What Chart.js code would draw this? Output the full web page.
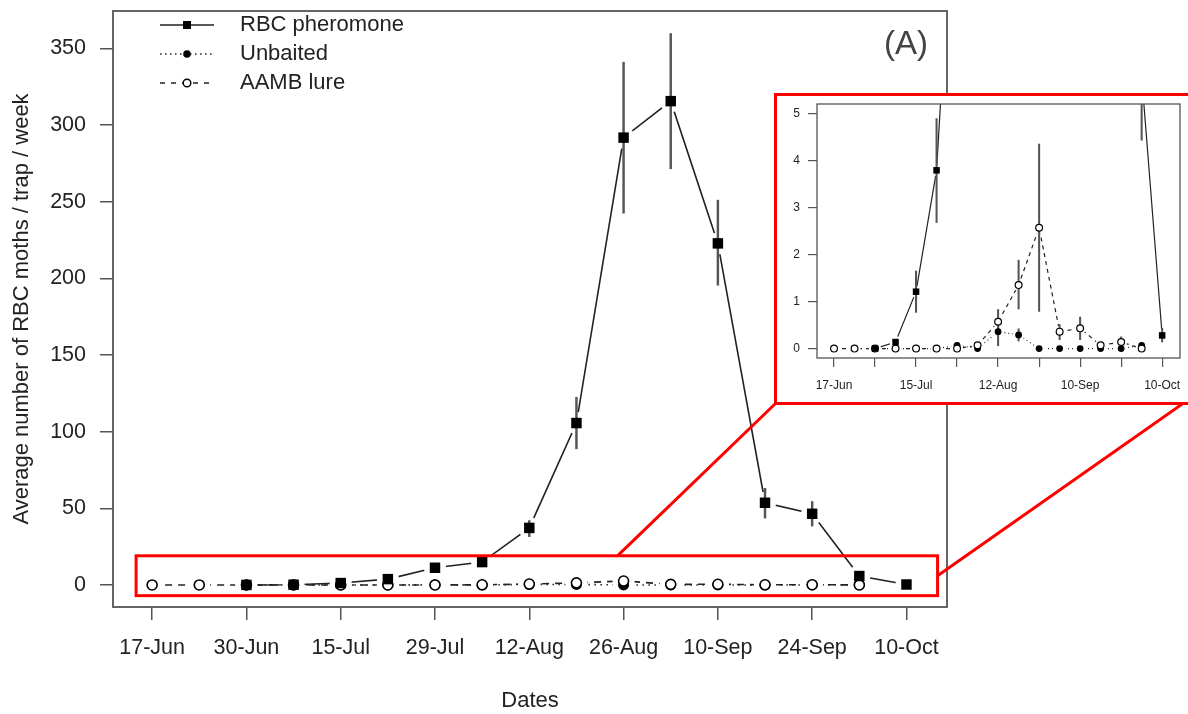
<!DOCTYPE html>
<html>
<head>
<meta charset="utf-8">
<title>RBC trap catches</title>
<script src="https://cdn.jsdelivr.net/npm/chart.js@4.4.1/dist/chart.umd.min.js"></script>
<style>
  html, body { margin: 0; padding: 0; background: #fff; }
  #wrap { position: relative; width: 1188px; height: 714px; overflow: hidden; }
  #mainChart { position: absolute; left: 0; top: 0; }
  #inset { position: absolute; left: 774px; top: 93px; width: 430px; height: 312px;
           border: 3px solid #ff0000; box-sizing: border-box; background: #fff; }
  #insetChart { position: absolute; left: 0; top: 0; }
</style>
</head>
<body>
<div id="wrap">
  <canvas id="mainChart" width="1188" height="714"></canvas>
  <div id="inset"><canvas id="insetChart" width="424" height="306"></canvas></div>
</div>
<script>
// weekly trap checks, index 0 = 17-Jun ... 16 = 10-Oct
const xTickWeeks = [0, 2, 4, 6, 8, 10, 12, 14, 16];
const xTickLabels = ['17-Jun', '30-Jun', '15-Jul', '29-Jul', '12-Aug', '26-Aug', '10-Sep', '24-Sep', '10-Oct'];
const insetTickLabels = ['17-Jun', '', '15-Jul', '', '12-Aug', '', '10-Sep', '', '10-Oct'];
const yTicksMain = [0, 50, 100, 150, 200, 250, 300, 350];
const yTicksInset = [0, 1, 2, 3, 4, 5];

// RBC pheromone (mean and error range)
const rbcMean = [null, null, 0, 0.14, 1.21, 3.79, 11.2, 14.9, 37.2, 105.6, 291.8, 315.6, 222.8, 53.6, 46.4, 5.8, 0.28];
const rbcLow  = [null, null, null, null, 0.77, 2.68, 8.6, 12.0, 31.5, 88.8, 242.5, 271.5, 195.5, 43.6, 38.4, 4.43, 0.14];
const rbcHigh = [null, null, null, null, 1.65, 4.89, 13.8, 17.8, 42.0, 122.4, 341.0, 359.7, 251.0, 63.0, 54.4, 7.17, 0.43];

// Unbaited traps
const unbMean = [null, null, 0, 0, 0, 0, 0.07, 0, 0.36, 0.29, 0, 0, 0, 0, 0, 0.07, null];
const unbLow  = [null, null, null, null, null, null, null, null, 0.06, 0.16, null, null, null, null, null, null, null];
const unbHigh = [null, null, null, null, null, null, null, null, 0.66, 0.42, null, null, null, null, null, null, null];

// AAMB lure
const aambMean = [0, 0, 0, 0, 0, 0, 0, 0.07, 0.57, 1.35, 2.57, 0.36, 0.43, 0.07, 0.14, 0, null];
const aambLow  = [null, null, null, null, null, null, null, null, 0.30, 0.84, 0.79, 0.19, 0.19, null, 0.03, null, null];
const aambHigh = [null, null, null, null, null, null, null, null, 0.83, 1.88, 4.35, 0.51, 0.67, null, 0.25, null, null];

const FONT = "'Liberation Sans', Arial, Helvetica, sans-serif";
const INK = '#222';
const AXIS = '#555';

function toPoints(vals) {
    const pts = [];
    vals.forEach((v, i) => { if (v !== null) pts.push({ x: i, y: v }); });
    return pts;
}

function toRanges(lows, highs) {
    const pts = [];
    lows.forEach((lo, i) => {
        const hi = highs[i];
        if (lo !== null && hi !== null && hi > lo) pts.push({ x: i, y: [lo, hi] });
    });
    return pts;
}

// vertical error bars as thin floating bars
function errBars(lows, highs, st) {
    return {
        type: 'bar', data: toRanges(lows, highs), grouped: false, order: 3,
        barThickness: st.barW, backgroundColor: st.barColor, borderWidth: 0
    };
}

// connecting line; white discs leave a small gap round each point (type "b" look)
function joinLine(vals, dash, st) {
    return {
        type: 'line', data: toPoints(vals), order: 4, tension: 0, fill: false,
        borderColor: INK, borderWidth: st.lineW, borderDash: dash,
        pointRadius: st.gap, pointBackgroundColor: '#fff', pointBorderWidth: 0
    };
}

function buildDatasets(st) {
    return [
        { type: 'line', label: 'RBC pheromone', data: toPoints(rbcMean), showLine: false, order: 0,
          pointStyle: 'rect', pointRadius: st.rectR, pointBackgroundColor: '#000', pointBorderWidth: 0 },
        { type: 'line', label: 'AAMB lure', data: toPoints(aambMean), showLine: false, order: 1,
          pointStyle: 'circle', pointRadius: st.openR, pointBackgroundColor: '#fff',
          pointBorderColor: '#000', pointBorderWidth: st.openW },
        { type: 'line', label: 'Unbaited', data: toPoints(unbMean), showLine: false, order: 2,
          pointStyle: 'circle', pointRadius: st.dotR, pointBackgroundColor: '#000', pointBorderWidth: 0 },
        errBars(rbcLow, rbcHigh, st),
        errBars(aambLow, aambHigh, st),
        errBars(unbLow, unbHigh, st),
        joinLine(rbcMean, [], st),
        joinLine(unbMean, st.dotDash, st),
        joinLine(aambMean, st.dashDash, st)
    ];
}

// fixed axis sizes, no extra room for half labels at the ends
function fixHeight(h) {
    return s => { s.height = h; s.paddingLeft = 0; s.paddingRight = 0; };
}
function fixWidth(w) {
    return s => { s.width = w; s.paddingTop = 0; s.paddingBottom = 0; };
}

// R-style box round the plotting region
const framePlugin = {
    id: 'frame',
    afterDraw(chart, args, opts) {
        const { ctx, chartArea: a } = chart;
        ctx.save();
        ctx.strokeStyle = AXIS;
        ctx.lineWidth = opts.width || 1.5;
        ctx.strokeRect(a.left, a.top, a.right - a.left, a.bottom - a.top);
        ctx.restore();
    }
};

// hand drawn key with line + marker samples
const keyPlugin = {
    id: 'seriesKey',
    afterDraw(chart) {
        const ctx = chart.ctx;
        const items = [
            { text: 'RBC pheromone', dash: [], mark: 'rect' },
            { text: 'Unbaited', dash: [1.5, 3.5], mark: 'dot' },
            { text: 'AAMB lure', dash: [5, 6], mark: 'open' }
        ];
        ctx.save();
        items.forEach((it, i) => {
            const y = 25 + i * 29;
            ctx.strokeStyle = INK;
            ctx.lineWidth = 1.6;
            ctx.setLineDash(it.dash);
            ctx.beginPath();
            ctx.moveTo(160, y);
            ctx.lineTo(214, y);
            ctx.stroke();
            ctx.setLineDash([]);
            const mx = 187;
            ctx.fillStyle = '#000';
            if (it.mark === 'rect') {
                ctx.fillRect(mx - 4, y - 4, 8, 8);
            } else {
                ctx.beginPath();
                ctx.arc(mx, y, 3.8, 0, Math.PI * 2);
                if (it.mark === 'dot') {
                    ctx.fill();
                } else {
                    ctx.fillStyle = '#fff';
                    ctx.fill();
                    ctx.lineWidth = 1.4;
                    ctx.strokeStyle = '#000';
                    ctx.stroke();
                }
            }
            ctx.fillStyle = INK;
            ctx.font = '22px ' + FONT;
            ctx.textAlign = 'left';
            ctx.textBaseline = 'middle';
            ctx.fillText(it.text, 240, y);
        });
        ctx.restore();
    }
};

// zoom window on the low counts, its leader lines and the panel letter
const zoomPlugin = {
    id: 'zoomWindow',
    afterDraw(chart) {
        const { ctx, scales: { x, y } } = chart;
        const l = x.getPixelForValue(-0.34), r = x.getPixelForValue(16.66);
        const t = y.getPixelForValue(19), b = y.getPixelForValue(-7);
        ctx.save();
        ctx.strokeStyle = '#ff0000';
        ctx.lineWidth = 3;
        ctx.strokeRect(l, t, r - l, b - t);
        ctx.beginPath();
        ctx.moveTo(x.getPixelForValue(9.87), t);
        ctx.lineTo(775, 404);
        ctx.moveTo(r, y.getPixelForValue(6));
        ctx.lineTo(1188, 400);
        ctx.stroke();
        ctx.fillStyle = '#444';
        ctx.font = '33px ' + FONT;
        ctx.textAlign = 'center';
        ctx.textBaseline = 'middle';
        ctx.fillText('(A)', 906, 45);
        ctx.restore();
    }
};

const mainStyle = {
    rectR: 7.4, openR: 5, openW: 1.6, dotR: 5.5, gap: 11, lineW: 1.6,
    dotDash: [1.5, 4.5], dashDash: [7, 6], barW: 1.8, barColor: '#555'
};
const insetStyle = {
    rectR: 4.6, openR: 3.4, openW: 1.2, dotR: 3.4, gap: 6, lineW: 1.2,
    dotDash: [1, 3], dashDash: [4, 4], barW: 1.4, barColor: '#555'
};

new Chart(document.getElementById('mainChart'), {
    type: 'line',
    data: { datasets: buildDatasets(mainStyle) },
    options: {
        responsive: false,
        animation: false,
        events: [],
        layout: { padding: { top: 6, right: 241, bottom: 0, left: 0 } },
        plugins: {
            legend: { display: false },
            tooltip: { enabled: false },
            frame: { width: 1.8 }
        },
        scales: {
            x: {
                type: 'linear', min: -0.83, max: 16.86, offset: false,
                afterBuildTicks: s => { s.ticks = xTickWeeks.map(v => ({ value: v })); },
                afterFit: fixHeight(107),
                grid: { drawOnChartArea: false, drawTicks: true, tickLength: 13, color: AXIS, lineWidth: 1.5, offset: false },
                border: { display: false },
                ticks: {
                    autoSkip: false, maxRotation: 0, padding: 15, color: INK,
                    font: { family: FONT, size: 21.5 },
                    callback: v => xTickLabels[xTickWeeks.indexOf(v)] || ''
                },
                title: { display: true, text: 'Dates', color: INK, font: { family: FONT, size: 22 }, padding: { top: 0, bottom: 0 } }
            },
            y: {
                min: -14.4, max: 374.4,
                afterBuildTicks: s => { s.ticks = yTicksMain.map(v => ({ value: v })); },
                afterFit: fixWidth(113),
                grid: { drawOnChartArea: false, drawTicks: true, tickLength: 13, color: AXIS, lineWidth: 1.5 },
                border: { display: false },
                ticks: { padding: 14, color: INK, font: { family: FONT, size: 21.5 } },
                title: {
                    display: true, text: 'Average number of RBC moths / trap / week', color: INK,
                    font: { family: FONT, size: 22 }, padding: { top: 9, bottom: 0 }
                }
            }
        }
    },
    plugins: [framePlugin, keyPlugin, zoomPlugin]
});

new Chart(document.getElementById('insetChart'), {
    type: 'line',
    data: { datasets: buildDatasets(insetStyle) },
    options: {
        responsive: false,
        animation: false,
        events: [],
        layout: { padding: { top: 8, right: 21, bottom: 0, left: 0 } },
        plugins: {
            legend: { display: false },
            tooltip: { enabled: false },
            frame: { width: 1.3 }
        },
        scales: {
            x: {
                type: 'linear', min: -0.83, max: 16.87, offset: false,
                afterBuildTicks: s => { s.ticks = xTickWeeks.map(v => ({ value: v })); },
                afterFit: fixHeight(44),
                grid: { drawOnChartArea: false, drawTicks: true, tickLength: 9, color: AXIS, lineWidth: 1.2, offset: false },
                border: { display: false },
                ticks: {
                    autoSkip: false, maxRotation: 0, padding: 11, color: INK,
                    font: { family: FONT, size: 12 },
                    callback: v => insetTickLabels[xTickWeeks.indexOf(v)] || ''
                }
            },
            y: {
                min: -0.2, max: 5.2,
                afterBuildTicks: s => { s.ticks = yTicksInset.map(v => ({ value: v })); },
                afterFit: fixWidth(40),
                grid: { drawOnChartArea: false, drawTicks: true, tickLength: 9, color: AXIS, lineWidth: 1.2 },
                border: { display: false },
                ticks: { padding: 8, color: INK, font: { family: FONT, size: 12 } }
            }
        }
    },
    plugins: [framePlugin]
});
</script>
</body>
</html>
